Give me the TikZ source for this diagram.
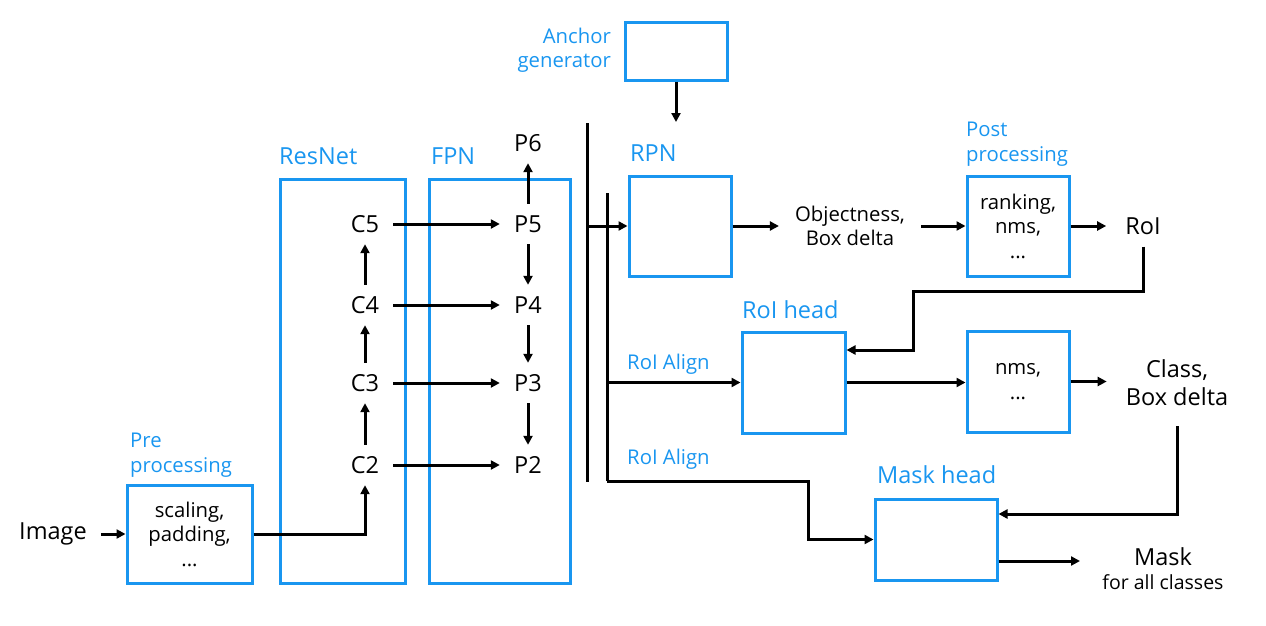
\documentclass[tikz,border=0pt]{standalone}
\usepackage{fontspec}
\setmainfont{Open Sans}
\usetikzlibrary{arrows.meta}
\definecolor{netblue}{RGB}{25,150,240}
\newcommand\bigfs{\fontsize{23.5}{28}\selectfont}
\newcommand\smallfs{\fontsize{20.3}{24.5}\selectfont}
\newcommand\subfs{\fontsize{19.5}{23}\selectfont}
\begin{document}
\begin{tikzpicture}[x=1pt,y=-1pt,
  box/.style={draw=netblue,line width=3pt,inner sep=0pt},
  lbl/.style={text=netblue,inner sep=0pt},
  txt/.style={inner sep=0pt},
  arr/.style={line width=3pt,-{Triangle[length=9pt,width=9pt]}},
  ln/.style={line width=3pt},
  cp/.style={txt,minimum width=56pt,minimum height=40pt,font=\bigfs}]
\useasboundingbox (0,0) rectangle (1266,626);

% input and preprocessing
\node[txt,font=\bigfs] (img) at (53,534) {Image};
\node[box,minimum width=125pt,minimum height=98pt,font=\smallfs,align=center] (pre) at (189.5,534) {scaling,\\padding,\\...};
\node[lbl,font=\smallfs,align=left,anchor=west] (prelbl) at (130,455) {Pre\\processing};

% backbone
\node[box,minimum width=125pt,minimum height=404pt] (resnet) at (342.5,381) {};
\node[box,minimum width=141pt,minimum height=404pt] (fpn) at (500,381) {};
\node[lbl,font=\bigfs,anchor=base west] (resnetlbl) at (279,164.5) {ResNet};
\node[lbl,font=\bigfs,anchor=base west] (fpnlbl) at (431,164.5) {FPN};

\node[cp] (c5) at (365,224) {C5};
\node[cp] (c4) at (365,305) {C4};
\node[cp] (c3) at (365,383) {C3};
\node[cp] (c2) at (365,465) {C2};
\node[cp] (p6) at (528,143) {P6};
\node[cp] (p5) at (528,224) {P5};
\node[cp] (p4) at (528,305) {P4};
\node[cp] (p3) at (528,383) {P3};
\node[cp] (p2) at (528,465) {P2};

% buses
\coordinate (b1top) at (587,123);
\coordinate (b1bot) at (587,482);
\coordinate (b2top) at (607,193);
\coordinate (b2bot) at (607,481);
\coordinate (b2turn) at (808,481);

% RPN branch
\node[box,minimum width=102pt,minimum height=57pt] (anchor) at (676,51.5) {};
\node[lbl,font=\smallfs,align=right,anchor=east] (anchorlbl) at (611,50) {Anchor\\generator};
\coordinate (anchtip) at (676,122);
\node[box,minimum width=102pt,minimum height=100pt] (rpn) at (680,226) {};
\node[lbl,font=\bigfs,anchor=base west] (rpnlbl) at (630,161.5) {RPN};
\node[txt,font=\smallfs,align=center] (obj) at (850,226) {Objectness,\\Box delta};
\node[box,minimum width=102pt,minimum height=100pt,font=\smallfs,align=center] (post) at (1018,226) {ranking,\\nms,\\...};
\node[lbl,font=\smallfs,align=left,anchor=west] (postlbl) at (966,144) {Post\\processing};
\node[txt,font=\bigfs] (roi) at (1143,226) {RoI};

% RoI head branch
\node[box,minimum width=103pt,minimum height=101pt] (roihead) at (793.5,382.5) {};
\node[lbl,font=\bigfs,anchor=base west] (roiheadlbl) at (742,318.5) {RoI head};
\node[lbl,font=\smallfs,anchor=base west] (align1) at (627,369) {RoI Align};
\node[lbl,font=\smallfs,anchor=base west] (align2) at (627,464) {RoI Align};
\node[box,minimum width=102pt,minimum height=101pt,font=\smallfs,align=center] (nmsbox) at (1018,381.5) {nms,\\...};
\node[txt,font=\bigfs,align=center] (cls) at (1177,383) {Class,\\Box delta};
\coordinate (r1) at (913,291);
\coordinate (r2) at (913,350);

% mask branch
\node[box,minimum width=122pt,minimum height=81pt] (mask) at (936,539.5) {};
\node[lbl,font=\bigfs,anchor=base west] (masklbl) at (877,483.5) {Mask head};
\node[txt,font=\bigfs,anchor=base] (masktxt) at (1163,565.5) {Mask};
\node[txt,font=\subfs,anchor=base] (masksub) at (1163,589) {for all classes};
\coordinate (c1) at (1177,514);
\coordinate (mout) at (1080,561);

% connectors
\draw[arr,shorten <=14pt] (img.east) -- (pre.west);
\draw[arr] (pre.east) -| (c2.south);
\draw[arr] (c2.north) -- (c3.south);
\draw[arr] (c3.north) -- (c4.south);
\draw[arr] (c4.north) -- (c5.south);
\draw[arr] (c5.east) -- (p5.west);
\draw[arr] (c4.east) -- (p4.west);
\draw[arr] (c3.east) -- (p3.west);
\draw[arr] (c2.east) -- (p2.west);
\draw[arr] (p5.north) -- (p6.south);
\draw[arr] (p5.south) -- (p4.north);
\draw[arr] (p4.south) -- (p3.north);
\draw[arr] (p3.south) -- (p2.north);

\draw[ln] (b1top) -- (b1bot);
\draw[arr] (b1top |- rpn.west) -- (rpn.west);
\draw[ln] (b2top) -- (b2bot);
\draw[arr] (b2top |- roihead.west) -- (roihead.west);
\draw[arr] (b2bot) -- (b2turn) |- (mask.west);

\draw[arr] (anchor.south) -- (anchtip);
\draw[arr,shorten >=16pt] (rpn.east) -- (rpn.east -| obj.west);
\draw[arr,shorten <=16pt] (obj.east |- post.west) -- (post.west);
\draw[arr,shorten >=19pt] (post.east) -- (post.east -| roi.west);
\draw[arr,shorten <=12pt] (roi.south) |- (r1) -- (r2) -- (roihead.east |- r2);
\draw[arr] (roihead.east) -- (roihead.east -| nmsbox.west);
\draw[arr,shorten >=19pt] (nmsbox.east) -- (nmsbox.east -| cls.west);
\draw[arr,shorten <=20pt] (cls.south) -- (c1) -- (mask.east |- c1);
\draw[arr] (mask.east |- mout) -- (mout);
\end{tikzpicture}
\end{document}
